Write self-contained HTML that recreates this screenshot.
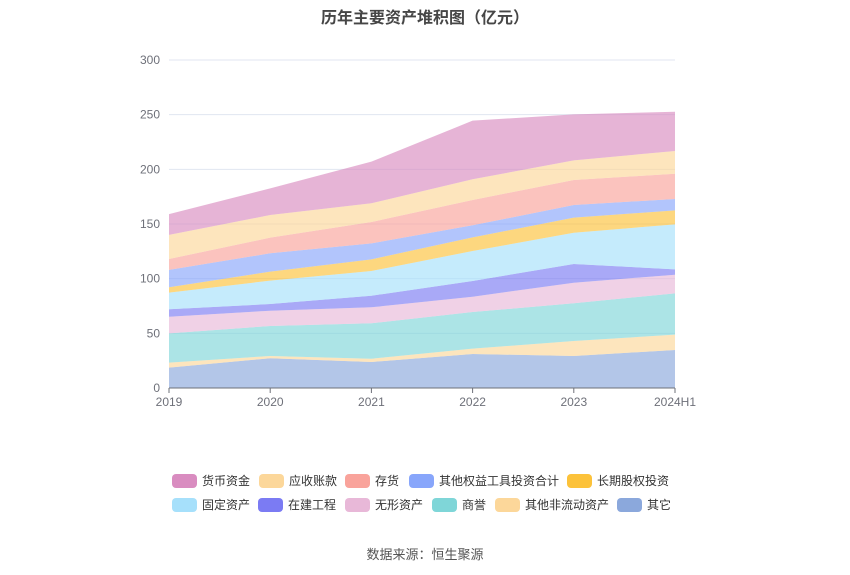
<!DOCTYPE html>
<html><head><meta charset="utf-8"><style>
body{margin:0;background:#fff;font-family:"Liberation Sans","Noto Sans CJK SC",sans-serif;}
#wrap{position:relative;width:850px;height:575px;overflow:hidden}
.lg{position:absolute;font-size:12px;color:#333;height:14px;line-height:14px;white-space:nowrap}
.lg i{display:inline-block;width:25px;height:14px;border-radius:4px;vertical-align:top;margin-right:5px}
</style></head><body>
<div id="wrap">
<div style="position:absolute;top:4px;left:0;width:850px;text-align:center;font-size:16px;font-weight:bold;color:#464646">历年主要资产堆积图（亿元）</div>
<svg id="svg" width="850" height="575" style="position:absolute;left:0;top:0"></svg>
<div id="legend"></div>
<div style="position:absolute;top:544px;left:0;width:850px;text-align:center;font-size:13px;color:#555">数据来源：恒生聚源</div>
</div>
<script>
const categories=["2019","2020","2021","2022","2023","2024H1"];
const seriesNames=["其它","其他非流动资产","商誉","无形资产","在建工程","固定资产","长期股权投资","其他权益工具投资合计","存货","应收账款","货币资金"];
const s0=[18.6,27.2,23.8,31.1,29.3,34.8];
const s1=[4.6,2.1,3.0,4.9,13.7,14.0];
const s2=[26.8,27.4,32.4,33.5,34.5,37.8];
const s3=[15.2,14.0,14.6,14.0,18.8,17.0];
const s4=[6.8,6.1,10.6,14.4,17.1,4.9];
const s5=[15.2,21.4,22.6,27.4,28.6,41.2];
const s6=[4.9,8.2,10.7,12.5,13.8,12.8];
const s7=[15.9,16.8,14.6,11.0,11.6,10.4];
const s8=[10.0,14.3,19.5,23.2,22.8,23.1];
const s9=[22.0,20.7,17.2,18.9,18.0,20.8];
const s10=[19.0,24.4,38.0,53.6,42.1,35.9];
const yTicks=[0,50,100,150,200,250,300];
const seriesData=[s0,s1,s2,s3,s4,s5,s6,s7,s8,s9,s10];
const colors=["#8ba8dc","#fcd79a","#7fd6d8","#e8b8d8","#7b7bf3","#a6e0fb","#fcc23a","#88a6fb","#f9a39b","#fcd79a","#d98cc0"];
const NS="http://www.w3.org/2000/svg";
const svg=document.getElementById('svg');
const x0=169,x1=675,yB=388,yT=60;
function xs(i){return x0+(x1-x0)*i/(categories.length-1);}
function ys(v){return yB-(yB-yT)*v/300;}
function mk(t,a){const e=document.createElementNS(NS,t);for(const k in a)e.setAttribute(k,a[k]);svg.appendChild(e);return e;}
yTicks.forEach(v=>{
  if(v>0){const g=mk('line',{x1:x0,x2:x1,y1:ys(v),y2:ys(v),stroke:'#e0e6f1'});
  
  }
  const t=mk('text',{x:160,y:ys(v)+4,'text-anchor':'end','font-size':12,fill:'#6e7079'});
  t.textContent=v;
  
  
});
let base=categories.map(()=>0);
seriesData.forEach((d,si)=>{
  const top=base.map((b,i)=>b+d[i]);
  let p='';
  top.forEach((v,i)=>{p+=(i?'L':'M')+xs(i)+','+ys(v);});
  for(let i=base.length-1;i>=0;i--)p+='L'+xs(i)+','+ys(base[i]);
  const a=mk('path',{d:p+'Z',fill:colors[si],'fill-opacity':0.65});
  
  
  base=top;
});
const ax=mk('line',{x1:x0,x2:x1,y1:yB,y2:yB,stroke:'#6e7079'});


categories.forEach((c,i)=>{
  const tk=mk('line',{x1:xs(i),x2:xs(i),y1:yB,y2:yB+5,stroke:'#6e7079'});
  
  
  const t=mk('text',{x:xs(i),y:406,'text-anchor':'middle','font-size':12,fill:'#6e7079'});
  t.textContent=c;
  
  
});
const legendPos=[[10,172,481],[9,259,481],[8,345,481],[7,409,481],[6,567,481],[5,172,505],[4,258,505],[3,345,505],[2,432,505],[1,495,505],[0,617,505]];
const lg=document.getElementById('legend');
legendPos.forEach(([si,x,y])=>{
  const d=document.createElement('div');
  d.className='lg';d.style.left=x+'px';d.style.top=(y-7)+'px';
  d.innerHTML='<i style="background:'+colors[si]+'"></i>'+seriesNames[si];
  
  
  lg.appendChild(d);
});
</script>
</body></html>
